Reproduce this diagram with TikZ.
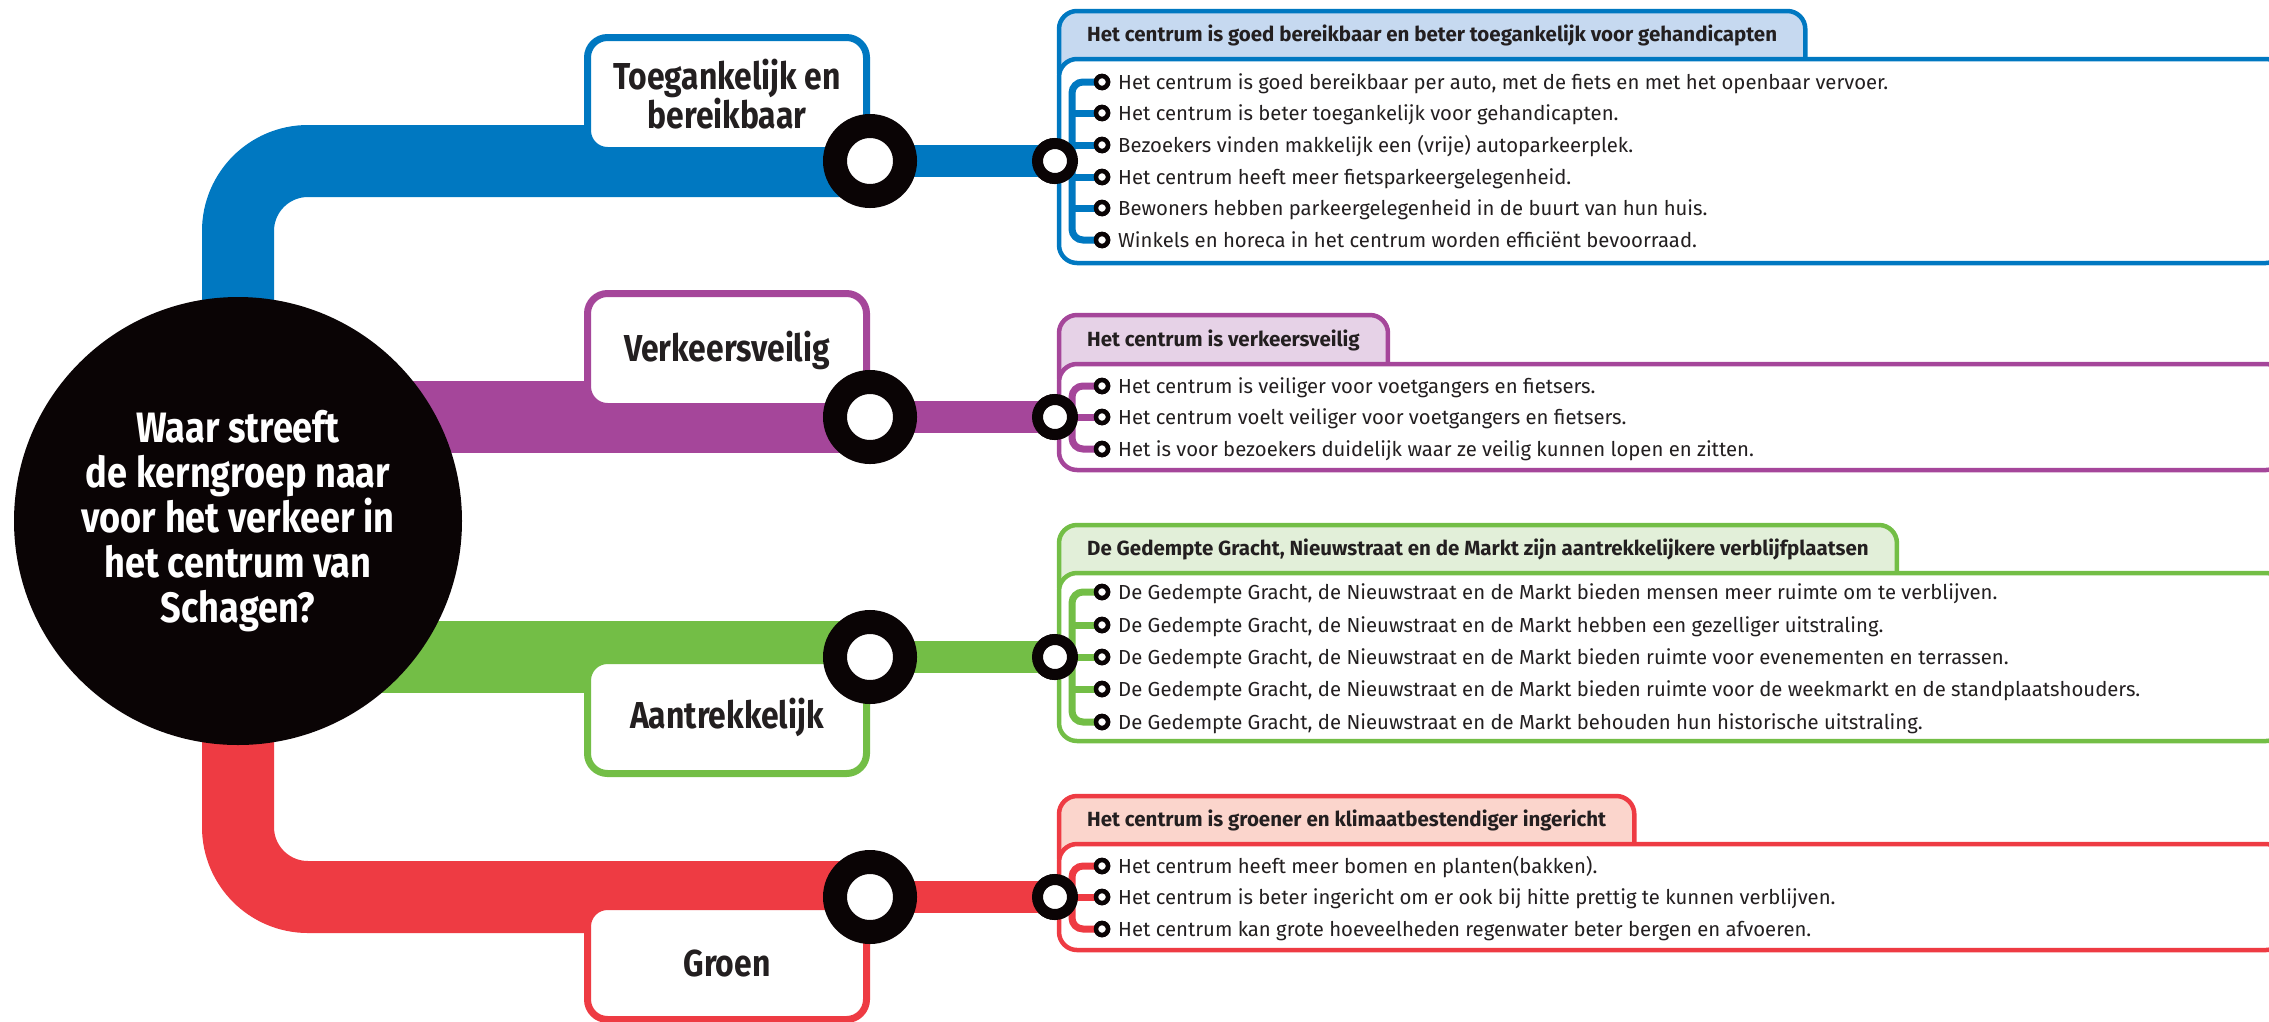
\documentclass[tikz,border=0pt]{standalone}
\usepackage{fontspec}
\setmainfont{Fira Sans}
\newfontfamily\smal{Fira Sans}[FakeStretch=0.85]
\usetikzlibrary{backgrounds}
\definecolor{blauw}{HTML}{0078C1}
\definecolor{paars}{HTML}{A5469A}
\definecolor{groen}{HTML}{73BE46}
\definecolor{rood}{HTML}{EE3B43}
\definecolor{blauwlicht}{HTML}{C6D9F0}
\definecolor{paarslicht}{HTML}{E6D2E7}
\definecolor{groenlicht}{HTML}{E2EFD9}
\definecolor{roodlicht}{HTML}{FBD5CC}
\definecolor{zwart}{HTML}{0A0405}
\definecolor{tekst}{HTML}{231F20}

\begin{document}
\begin{tikzpicture}[x=1pt,y=-1pt,
   trunk/.style={line width=72pt,rounded corners=70pt},
   branch/.style={line width=32pt},
   spine/.style={line width=7pt,rounded corners=11pt},
   hub/.style={circle,fill=zwart,text=white,minimum size=448pt,inner sep=0pt,align=center,font=\smal\bfseries\fontsize{42.5}{45}\selectfont},
   thema/.style={draw,fill=white,line width=7pt,rounded corners=20pt,minimum width=279pt,minimum height=113pt,align=center,text=tekst,font=\smal\bfseries\fontsize{37.5}{38}\selectfont},
   ring/.style={circle,draw=zwart,fill=white,line width=24pt,minimum size=70pt,inner sep=0pt},
   knoop/.style={circle,draw=zwart,fill=white,line width=11pt,minimum size=35pt,inner sep=0pt},
   bol/.style={circle,draw=zwart,fill=white,line width=4.5pt,minimum size=12pt,inner sep=0pt},
   kop/.style={anchor=west,inner xsep=28pt,inner ysep=0pt,text=tekst,font=\bfseries\fontsize{20.5}{22}\selectfont},
   kopvak/.style={line width=4.5pt,rounded corners=18pt},
   vak/.style={draw,fill=white,line width=4.5pt,rounded corners=18pt},
   punt/.style={anchor=base west,inner sep=0pt,text=tekst,font=\fontsize{20.3}{22}\selectfont}]
\useasboundingbox (0,0) rectangle (2269,1021);
\clip (0,0) rectangle (2269,1021);

\coordinate (kern) at (238,521);
\coordinate (ringA) at (870,161);
\coordinate (ringB) at (870,417);
\coordinate (ringC) at (870,657);
\coordinate (ringD) at (870,897);

\draw[trunk,blauw] (kern) |- (ringA);
\draw[trunk,paars] (kern |- ringB) -- (ringB);
\draw[trunk,groen] (kern |- ringC) -- (ringC);
\draw[trunk,rood] (kern) |- (ringD);

\node[knoop] (dotA) at (1055,161) {};
\node[knoop] (dotB) at (1055,417) {};
\node[knoop] (dotC) at (1055,657) {};
\node[knoop] (dotD) at (1055,897) {};
\draw[branch,blauw] (ringA) -- (dotA.center);
\draw[branch,paars] (ringB) -- (dotB.center);
\draw[branch,groen] (ringC) -- (dotC.center);
\draw[branch,rood] (ringD) -- (dotD.center);

\node[thema,draw=blauw] (lblA) at (727,94) {Toegankelijk en\\bereikbaar};
\node[thema,draw=paars] (lblB) at (727,350) {Verkeersveilig};
\node[thema,draw=groen] (lblC) at (727,717) {Aantrekkelijk};
\node[thema,draw=rood] (lblD) at (727,963) {Groen};

\node[hub] (vraag) at (kern) {Waar streeft\\de kerngroep naar\\voor het verkeer in\\het centrum van\\Schagen?};

\node[ring] (rA) at (ringA) {};
\node[ring] (rB) at (ringB) {};
\node[ring] (rC) at (ringC) {};
\node[ring] (rD) at (ringD) {};

\node[kop] (kopA) at (1059,35) {Het centrum is goed bereikbaar en beter toegankelijk voor gehandicapten};
\node[kop] (kopB) at (1059,340) {Het centrum is verkeersveilig};
\node[kop] (kopC) at (1059,549) {De Gedempte Gracht, Nieuwstraat en de Markt zijn aantrekkelijkere verblijfplaatsen};
\node[kop] (kopD) at (1059,820) {Het centrum is groener en klimaatbestendiger ingericht};
\begin{scope}[on background layer]
\draw[kopvak,draw=blauw,fill=blauwlicht] ([yshift=24pt]kopA.west) rectangle ([yshift=-55pt]kopA.east);
\draw[kopvak,draw=paars,fill=paarslicht] ([yshift=25pt]kopB.west) rectangle ([yshift=-55pt]kopB.east);
\draw[kopvak,draw=groen,fill=groenlicht] ([yshift=24pt]kopC.west) rectangle ([yshift=-55pt]kopC.east);
\draw[kopvak,draw=rood,fill=roodlicht] ([yshift=24pt]kopD.west) rectangle ([yshift=-55pt]kopD.east);
\end{scope}

\draw[vak,draw=blauw] (1059,59) rectangle (2284,263);
\draw[vak,draw=paars] (1059,364) rectangle (2284,470);
\draw[vak,draw=groen] (1059,573) rectangle (2284,741);
\draw[vak,draw=rood] (1059,844) rectangle (2284,950);

\coordinate (spineA) at (1072,161);
\coordinate (spineB) at (1072,417);
\coordinate (spineC) at (1072,657);
\coordinate (spineD) at (1072,897);

\node[bol] (bA1) at (1102,82) {};
\node[bol] (bA2) at (1102,113) {};
\node[bol] (bA3) at (1102,145) {};
\node[bol] (bA4) at (1102,177) {};
\node[bol] (bA5) at (1102,208) {};
\node[bol] (bA6) at (1102,240) {};
\draw[spine,blauw] (bA1.center) -| (spineA |- bA6.center) -- (bA6.center);
\draw[spine,blauw] (spineA |- bA2.center) -- (bA2.center);
\draw[spine,blauw] (spineA |- bA3.center) -- (bA3.center);
\draw[spine,blauw] (spineA |- bA4.center) -- (bA4.center);
\draw[spine,blauw] (spineA |- bA5.center) -- (bA5.center);
\draw[spine,blauw] (dotA.center) -- (spineA);
\node[bol] at (bA1) {};
\node[bol] at (bA2) {};
\node[bol] at (bA3) {};
\node[bol] at (bA4) {};
\node[bol] at (bA5) {};
\node[bol] at (bA6) {};
\node[knoop] at (dotA) {};
\node[punt] (tA1) at (1118,89) {Het centrum is goed bereikbaar per auto, met de fiets en met het openbaar vervoer.};
\node[punt] (tA2) at (1118,120) {Het centrum is beter toegankelijk voor gehandicapten.};
\node[punt] (tA3) at (1118,152) {Bezoekers vinden makkelijk een (vrije) autoparkeerplek.};
\node[punt] (tA4) at (1118,184) {Het centrum heeft meer fietsparkeergelegenheid.};
\node[punt] (tA5) at (1118,215) {Bewoners hebben parkeergelegenheid in de buurt van hun huis.};
\node[punt] (tA6) at (1118,247) {Winkels en horeca in het centrum worden efficiënt bevoorraad.};

\node[bol] (bB1) at (1102,386) {};
\node[bol] (bB2) at (1102,417) {};
\node[bol] (bB3) at (1102,449) {};
\draw[spine,paars] (bB1.center) -| (spineB |- bB3.center) -- (bB3.center);
\draw[spine,paars] (dotB.center) -- (bB2.center);
\node[bol] at (bB1) {};
\node[bol] at (bB2) {};
\node[bol] at (bB3) {};
\node[knoop] at (dotB) {};
\node[punt] (tB1) at (1118,393) {Het centrum is veiliger voor voetgangers en fietsers.};
\node[punt] (tB2) at (1118,424) {Het centrum voelt veiliger voor voetgangers en fietsers.};
\node[punt] (tB3) at (1118,456) {Het is voor bezoekers duidelijk waar ze veilig kunnen lopen en zitten.};

\node[bol] (bC1) at (1102,592) {};
\node[bol] (bC2) at (1102,625) {};
\node[bol] (bC3) at (1102,657) {};
\node[bol] (bC4) at (1102,689) {};
\node[bol] (bC5) at (1102,722) {};
\draw[spine,groen] (bC1.center) -| (spineC |- bC5.center) -- (bC5.center);
\draw[spine,groen] (spineC |- bC2.center) -- (bC2.center);
\draw[spine,groen] (spineC |- bC4.center) -- (bC4.center);
\draw[spine,groen] (dotC.center) -- (bC3.center);
\node[bol] at (bC1) {};
\node[bol] at (bC2) {};
\node[bol] at (bC3) {};
\node[bol] at (bC4) {};
\node[bol] at (bC5) {};
\node[knoop] at (dotC) {};
\node[punt] (tC1) at (1118,599) {De Gedempte Gracht, de Nieuwstraat en de Markt bieden mensen meer ruimte om te verblijven.};
\node[punt] (tC2) at (1118,632) {De Gedempte Gracht, de Nieuwstraat en de Markt hebben een gezelliger uitstraling.};
\node[punt] (tC3) at (1118,664) {De Gedempte Gracht, de Nieuwstraat en de Markt bieden ruimte voor evenementen en terrassen.};
\node[punt] (tC4) at (1118,696) {De Gedempte Gracht, de Nieuwstraat en de Markt bieden ruimte voor de weekmarkt en de standplaatshouders.};
\node[punt] (tC5) at (1118,729) {De Gedempte Gracht, de Nieuwstraat en de Markt behouden hun historische uitstraling.};

\node[bol] (bD1) at (1102,866) {};
\node[bol] (bD2) at (1102,897) {};
\node[bol] (bD3) at (1102,929) {};
\draw[spine,rood] (bD1.center) -| (spineD |- bD3.center) -- (bD3.center);
\draw[spine,rood] (dotD.center) -- (bD2.center);
\node[bol] at (bD1) {};
\node[bol] at (bD2) {};
\node[bol] at (bD3) {};
\node[knoop] at (dotD) {};
\node[punt] (tD1) at (1118,873) {Het centrum heeft meer bomen en planten(bakken).};
\node[punt] (tD2) at (1118,904) {Het centrum is beter ingericht om er ook bij hitte prettig te kunnen verblijven.};
\node[punt] (tD3) at (1118,936) {Het centrum kan grote hoeveelheden regenwater beter bergen en afvoeren.};
\end{tikzpicture}
\end{document}
